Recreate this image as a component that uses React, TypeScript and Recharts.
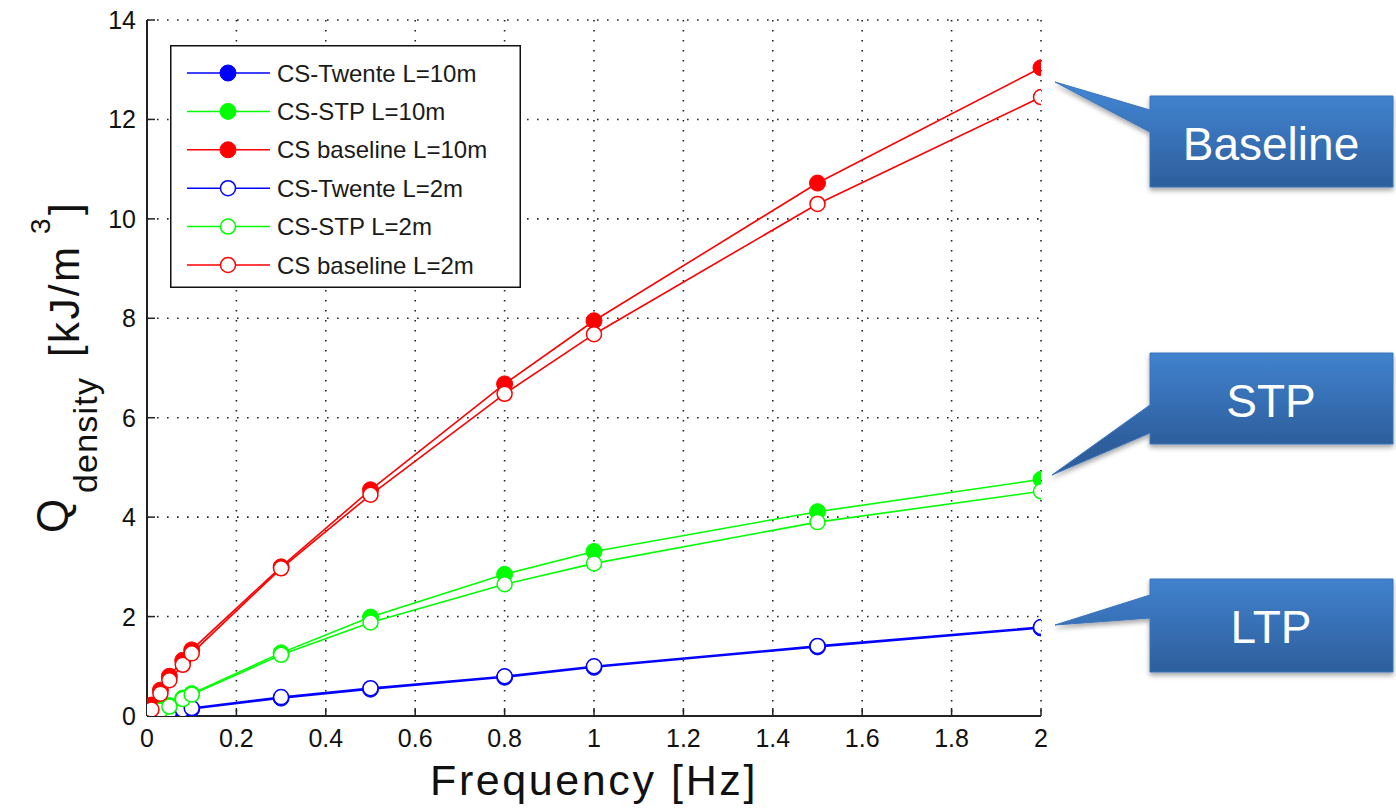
import React from 'react';
import { LineChart, Line, XAxis, YAxis, CartesianGrid, Legend } from 'recharts';

const freq = [0.01, 0.03, 0.05, 0.08, 0.1, 0.3, 0.5, 0.8, 1, 1.5, 2];
const twente10 = [0.01, 0.04, 0.07, 0.11, 0.14, 0.36, 0.54, 0.78, 0.98, 1.39, 1.77];
const stp10 = [0.05, 0.13, 0.21, 0.36, 0.45, 1.27, 1.99, 2.85, 3.31, 4.11, 4.76];
const base10 = [0.22, 0.52, 0.8, 1.12, 1.33, 3.0, 4.55, 6.68, 7.95, 10.72, 13.04];
const twente2 = [0.02, 0.05, 0.08, 0.13, 0.16, 0.38, 0.56, 0.8, 1.0, 1.41, 1.79];
const stp2 = [0.04, 0.11, 0.19, 0.34, 0.43, 1.23, 1.88, 2.65, 3.07, 3.9, 4.52];
const base2 = [0.13, 0.45, 0.72, 1.03, 1.26, 2.97, 4.45, 6.48, 7.68, 10.3, 12.45];

const xTicks = [0, 0.2, 0.4, 0.6, 0.8, 1, 1.2, 1.4, 1.6, 1.8, 2];
const yTicks = [0, 2, 4, 6, 8, 10, 12, 14];

const seriesKeys = ['t10', 's10', 'b10', 't2', 's2', 'b2'];
const seriesNames = [
  'CS-Twente L=10m',
  'CS-STP L=10m',
  'CS baseline L=10m',
  'CS-Twente L=2m',
  'CS-STP L=2m',
  'CS baseline L=2m',
];
const seriesColors = ['#0000ff', '#00ff00', '#ff0000', '#0000ff', '#00ff00', '#ff0000'];
const seriesFilled = [true, true, true, false, false, false];

const callouts = ['Baseline', 'STP', 'LTP'];

const data = freq.map((f, i) => ({
  f,
  t10: twente10[i],
  s10: stp10[i],
  b10: base10[i],
  t2: twente2[i],
  s2: stp2[i],
  b2: base2[i],
}));

const FONT = '"Liberation Sans", Arial, Helvetica, sans-serif';

const XTick = (props: any) => {
  const { x, y, payload } = props;
  return (
    <text x={x} y={y + 18} textAnchor="middle" fontFamily={FONT} fontSize={25} fill="#111">
      {String(payload.value)}
    </text>
  );
};

const YTick = (props: any) => {
  const { x, y, payload } = props;
  return (
    <text x={x} y={y + 9} textAnchor="end" fontFamily={FONT} fontSize={25} fill="#111">
      {String(payload.value)}
    </text>
  );
};

const renderLegend = () => (
  <svg width={351} height={243} style={{ display: 'block' }}>
    <rect x={0.75} y={0.75} width={349.5} height={241.5} fill="#fff" stroke="#111" strokeWidth={1.5} />
    {seriesNames.map((name, i) => {
      const cy = 28 + i * 38.4;
      const c = seriesColors[i];
      return (
        <g key={name}>
          <line x1={17} x2={100} y1={cy} y2={cy} stroke={c} strokeWidth={1.5} />
          {seriesFilled[i] ? (
            <circle cx={58} cy={cy} r={8} fill={c} stroke={c} strokeWidth={1} />
          ) : (
            <circle cx={58} cy={cy} r={7.5} fill="#fff" stroke={c} strokeWidth={1.5} />
          )}
          <text x={107} y={cy + 8.5} fontFamily={FONT} fontSize={24} fill="#1a1a1a">
            {name}
          </text>
        </g>
      );
    })}
  </svg>
);

export default function App() {
  return (
    <div style={{ position: 'absolute', left: 0, top: 0, width: 1396, height: 811, background: '#fff' }}>
      <LineChart
        width={1396}
        height={811}
        data={data}
        margin={{ top: 20, right: 355, left: 0, bottom: 0 }}
      >
        <CartesianGrid
          stroke="#222"
          strokeWidth={1.6}
          strokeDasharray="1.6 8.4"
          horizontalValues={yTicks}
          verticalValues={xTicks}
        />
        <XAxis
          dataKey="f"
          type="number"
          domain={[0, 2]}
          ticks={xTicks}
          height={95}
          tickSize={-8}
          tickMargin={21}
          axisLine={{ stroke: '#222', strokeWidth: 2 }}
          tickLine={{ stroke: '#222', strokeWidth: 1.5 }}
          tick={<XTick />}
          interval={0}
          allowDataOverflow
        />
        <YAxis
          type="number"
          domain={[0, 14]}
          ticks={yTicks}
          width={147}
          tickSize={-8}
          tickMargin={19}
          axisLine={{ stroke: '#222', strokeWidth: 2 }}
          tickLine={{ stroke: '#222', strokeWidth: 1.5 }}
          tick={<YTick />}
          interval={0}
          allowDataOverflow
        />
        <Legend
          layout="vertical"
          align="center"
          verticalAlign="middle"
          wrapperStyle={{ left: 170, top: 45, width: 351, height: 243 }}
          content={renderLegend}
        />
        {seriesKeys.map((k, i) => (
          <Line
            key={k}
            dataKey={k}
            name={seriesNames[i]}
            type="linear"
            stroke={seriesColors[i]}
            strokeWidth={1.6}
            isAnimationActive={false}
            activeDot={false}
            dot={
              seriesFilled[i]
                ? { r: 8, fill: seriesColors[i], stroke: seriesColors[i], strokeWidth: 1 }
                : { r: 7.5, fill: '#fff', stroke: seriesColors[i], strokeWidth: 1.5 }
            }
          />
        ))}
      </LineChart>
      <svg
        width={1396}
        height={811}
        style={{ position: 'absolute', left: 0, top: 0, pointerEvents: 'none' }}
      >
        <defs>
          <linearGradient id="g0" gradientUnits="userSpaceOnUse" x1="0" y1="96" x2="0" y2="187">
            <stop offset="0" stopColor="#4182ce" />
            <stop offset="1" stopColor="#2d5e9c" />
          </linearGradient>
          <linearGradient id="g1" gradientUnits="userSpaceOnUse" x1="0" y1="353" x2="0" y2="444">
            <stop offset="0" stopColor="#4182ce" />
            <stop offset="1" stopColor="#2d5e9c" />
          </linearGradient>
          <linearGradient id="g2" gradientUnits="userSpaceOnUse" x1="0" y1="579" x2="0" y2="672">
            <stop offset="0" stopColor="#4182ce" />
            <stop offset="1" stopColor="#2d5e9c" />
          </linearGradient>
          <filter id="sh" x="-20%" y="-20%" width="140%" height="160%">
            <feDropShadow dx="0" dy="3" stdDeviation="2.5" floodColor="#000" floodOpacity="0.35" />
          </filter>
        </defs>
        <path
          d="M1150,96 H1393 V187 H1150 V132 L1055,82 L1150,110 Z"
          fill="url(#g0)"
          stroke="#3a74bb"
          strokeWidth={1}
          filter="url(#sh)"
        />
        <path
          d="M1150,353 H1393 V444 H1150 V433 L1052,475 L1150,405 Z"
          fill="url(#g1)"
          stroke="#3a74bb"
          strokeWidth={1}
          filter="url(#sh)"
        />
        <path
          d="M1150,579 H1393 V672 H1150 V618 L1055,625 L1150,595 Z"
          fill="url(#g2)"
          stroke="#3a74bb"
          strokeWidth={1}
          filter="url(#sh)"
        />
        <text x={1271} y={160} textAnchor="middle" fontFamily={FONT} fontSize={46} fill="#fff">
          {callouts[0]}
        </text>
        <text x={1271} y={417} textAnchor="middle" fontFamily={FONT} fontSize={46} fill="#fff">
          {callouts[1]}
        </text>
        <text x={1271} y={643} textAnchor="middle" fontFamily={FONT} fontSize={46} fill="#fff">
          {callouts[2]}
        </text>

        <text
          x={594}
          y={795}
          textAnchor="middle"
          fontFamily={FONT}
          fontSize={43}
          letterSpacing={2.6}
          fill="#111"
        >
          Frequency [Hz]
        </text>

        <g transform="translate(0,533) rotate(-90)" fontFamily={FONT} fill="#111">
          <text x={0} y={68} fontSize={44}>Q</text>
          <text x={40} y={97} fontSize={34} letterSpacing={1.2}>density</text>
          <text x={176} y={79} fontSize={42} letterSpacing={2.4}>[kJ/m</text>
          <text x={299} y={50} fontSize={28}>3</text>
          <text x={318} y={79} fontSize={42}>]</text>
        </g>
      </svg>
    </div>
  );
}
